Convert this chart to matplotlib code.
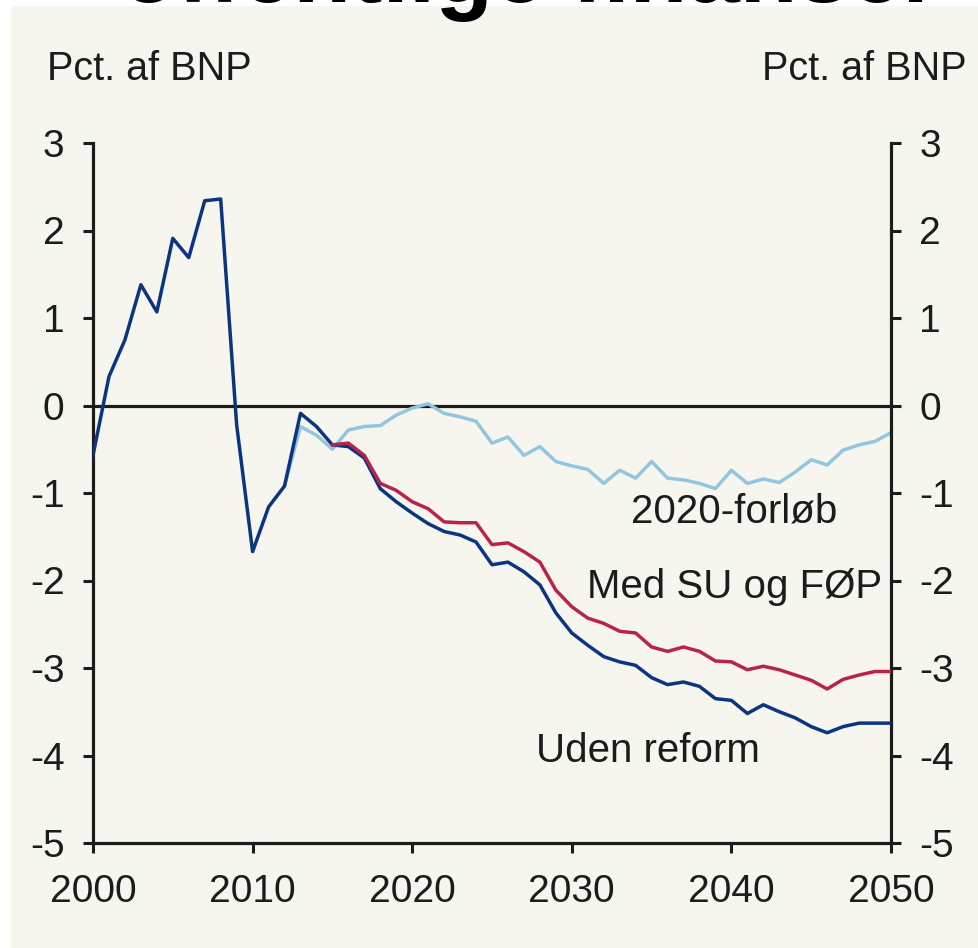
import numpy as np
import matplotlib
matplotlib.use('Agg')
import matplotlib.pyplot as plt
from matplotlib.patches import Rectangle

plt.rcParams['font.family'] = ['Liberation Sans', 'DejaVu Sans']

# Uden reform, 2000-2050
years_all = np.arange(2000, 2051)
uden = [-0.57, 0.33, 0.75, 1.38, 1.07, 1.91, 1.69, 2.34, 2.36, -0.22,
        -1.67, -1.16, -0.92, -0.09, -0.24, -0.45, -0.47, -0.60, -0.95, -1.10,
        -1.23, -1.35, -1.44, -1.48, -1.56, -1.82, -1.79, -1.90, -2.05, -2.37,
        -2.60, -2.74, -2.87, -2.93, -2.97, -3.11, -3.19, -3.16, -3.21, -3.35,
        -3.37, -3.52, -3.42, -3.50, -3.57, -3.67, -3.74, -3.67, -3.63, -3.63,
        -3.63]

# 2020-forloeb, 2012-2050
years_2020 = np.arange(2012, 2051)
forlob = [-0.92, -0.24, -0.34, -0.50, -0.28, -0.24, -0.23, -0.11,
          -0.03, 0.02, -0.09, -0.13, -0.18, -0.43, -0.36, -0.57, -0.47, -0.64,
          -0.69, -0.73, -0.89, -0.74, -0.83, -0.64, -0.83, -0.85, -0.89, -0.95,
          -0.74, -0.89, -0.84, -0.88, -0.76, -0.62, -0.68, -0.51, -0.45, -0.41,
          -0.31]

# Med SU og FOEP, 2015-2050
years_su = np.arange(2015, 2051)
med_su = [-0.45, -0.43, -0.57, -0.89, -0.97,
          -1.10, -1.18, -1.33, -1.34, -1.34, -1.59, -1.57, -1.67, -1.79, -2.11,
          -2.30, -2.43, -2.49, -2.58, -2.60, -2.76, -2.81, -2.76, -2.81, -2.92,
          -2.93, -3.02, -2.98, -3.02, -3.08, -3.14, -3.24, -3.13, -3.08, -3.04,
          -3.04]

xticks = [2000, 2010, 2020, 2030, 2040, 2050]
yticks = [3, 2, 1, 0, -1, -2, -3, -4, -5]

navy = '#0b3580'
red = '#b8234c'
lightblue = '#92c6e0'
cream = '#f7f6ee'
ink = '#1c1c1c'

fig = plt.figure(figsize=(9.79, 9.48), dpi=100)
fig.patch.set_facecolor('white')
fig.patches.append(Rectangle((11/979, 0), 1, 942/948, transform=fig.transFigure,
                             facecolor=cream, edgecolor='none', zorder=-5))

# title of the page, cut off by the top edge
fig.text(120/979, 1 - 2/948, 'offentlige finanser', fontsize=68, fontweight='bold',
         color='black', ha='left', va='baseline', zorder=5)

ax = fig.add_axes([93/979, 105/948, 798/979, 700/948])
ax.set_facecolor('none')

ax.axhline(0, color=ink, lw=2.3, zorder=1)
ax.plot(years_2020, forlob, color=lightblue, lw=2.5, zorder=2)
ax.plot(years_all, uden, color=navy, lw=2.5, zorder=3)
ax.plot(years_su, med_su, color=red, lw=2.5, zorder=4)

ax.set_xlim(2000, 2050)
ax.set_ylim(-5, 3)
ax.set_xticks(xticks)
ax.set_yticks(yticks)
ax.set_yticklabels([str(v) for v in yticks])

for s in ['left', 'right', 'bottom']:
    ax.spines[s].set_linewidth(2.3)
    ax.spines[s].set_color(ink)
ax.spines['top'].set_visible(False)

ax.tick_params(axis='y', direction='out', length=7.5, width=2.2, color=ink,
               left=True, right=True, labelleft=True, labelright=True,
               labelsize=28, labelcolor=ink, pad=13)
ax.tick_params(axis='x', direction='out', length=7.5, width=2.2, color=ink,
               labelsize=28, labelcolor=ink, pad=15)

txt = dict(fontsize=29, color=ink, va='baseline')
ax.text(2040.2, -1.34, '2020-forløb', ha='center', **txt)
ax.text(2040.2, -2.20, 'Med SU og FØP', ha='center', **txt)
ax.text(2034.8, -4.07, 'Uden reform', ha='center', **txt)

fig.text(47/979, 1 - 80/948, 'Pct. af BNP', fontsize=28.5, color=ink, ha='left', va='baseline')
fig.text(967/979, 1 - 80/948, 'Pct. af BNP', fontsize=28.5, color=ink, ha='right', va='baseline')

fig.savefig('out.png', dpi=100)
